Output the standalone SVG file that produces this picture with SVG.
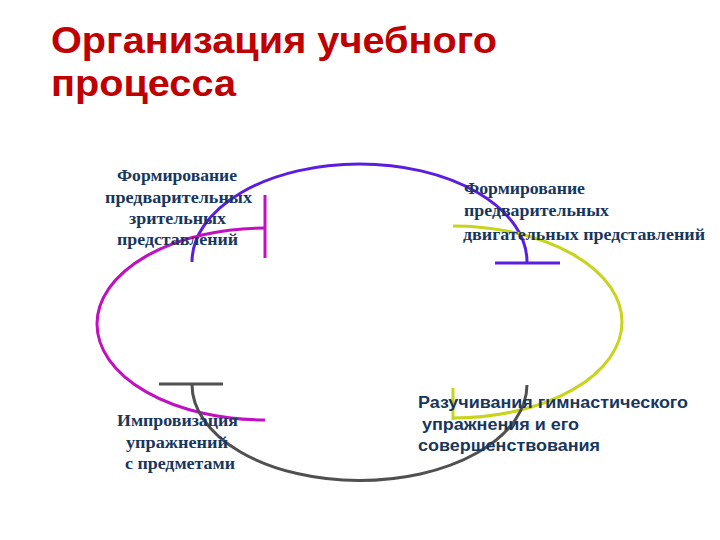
<svg xmlns="http://www.w3.org/2000/svg" width="720" height="540" viewBox="0 0 720 540">
<style>
.title{font-family:"Liberation Sans",Arial,sans-serif;font-weight:bold;font-size:37px;fill:#c00000}
.ser{font-family:"Liberation Serif","Times New Roman",serif;font-weight:bold;font-size:17px;fill:#17365d}
.sans{font-family:"Liberation Sans",Arial,sans-serif;font-weight:bold;font-size:16px;fill:#17365d}
.arc{fill:none;stroke-width:3}
</style>
<rect width="720" height="540" fill="#ffffff"/>
<g id="title">
<text class="title" x="51" y="53" textLength="446" lengthAdjust="spacingAndGlyphs">Организация учебного</text>
<text class="title" x="51" y="96" textLength="185" lengthAdjust="spacingAndGlyphs">процесса</text>
</g>
<g id="connectors">
<path class="arc" stroke="#5a1ee0" d="M192,262 A167.5,98 0 0 1 527,262"/>
<path class="arc" stroke="#5a1ee0" d="M495,263 H560"/>
<path class="arc" stroke="#c010c0" d="M265,228 A168,96 0 0 0 265,420"/>
<path class="arc" stroke="#c010c0" d="M265,195 V258"/>
<path class="arc" stroke="#c8d41c" d="M453,226 A169,96 0 0 1 453,418"/>
<path class="arc" stroke="#c8d41c" d="M453,388 V420"/>
<path class="arc" stroke="#505050" d="M192,384 A167.5,96 0 0 0 527,385"/>
<path class="arc" stroke="#505050" d="M159,384 H223"/>
</g>
<g id="node-visual">
<text class="ser"><tspan x="117" y="181" textLength="120" lengthAdjust="spacingAndGlyphs">Формирование</tspan><tspan x="105" y="203" textLength="147" lengthAdjust="spacingAndGlyphs">предварительных</tspan><tspan x="129" y="224" textLength="97" lengthAdjust="spacingAndGlyphs">зрительных</tspan><tspan x="117" y="245" textLength="121" lengthAdjust="spacingAndGlyphs">представлений</tspan></text>
</g>
<g id="node-motor">
<text class="ser"><tspan x="464" y="194" textLength="121" lengthAdjust="spacingAndGlyphs">Формирование</tspan><tspan x="464" y="216" textLength="145" lengthAdjust="spacingAndGlyphs">предварительных</tspan><tspan x="463" y="240" textLength="242" lengthAdjust="spacingAndGlyphs">двигательных представлений</tspan></text>
</g>
<g id="node-improv">
<text class="ser"><tspan x="117" y="426" textLength="121" lengthAdjust="spacingAndGlyphs">Импровизация</tspan><tspan x="126" y="448" textLength="102" lengthAdjust="spacingAndGlyphs">упражнений</tspan><tspan x="125" y="469" textLength="110" lengthAdjust="spacingAndGlyphs">с предметами</tspan></text>
</g>
<g id="node-learning">
<text class="sans"><tspan x="418" y="408" textLength="270" lengthAdjust="spacingAndGlyphs">Разучивания гимнастического</tspan><tspan x="422" y="430" textLength="157" lengthAdjust="spacingAndGlyphs">упражнения и его</tspan><tspan x="418" y="451" textLength="182" lengthAdjust="spacingAndGlyphs">совершенствования</tspan></text>
</g>
</svg>
